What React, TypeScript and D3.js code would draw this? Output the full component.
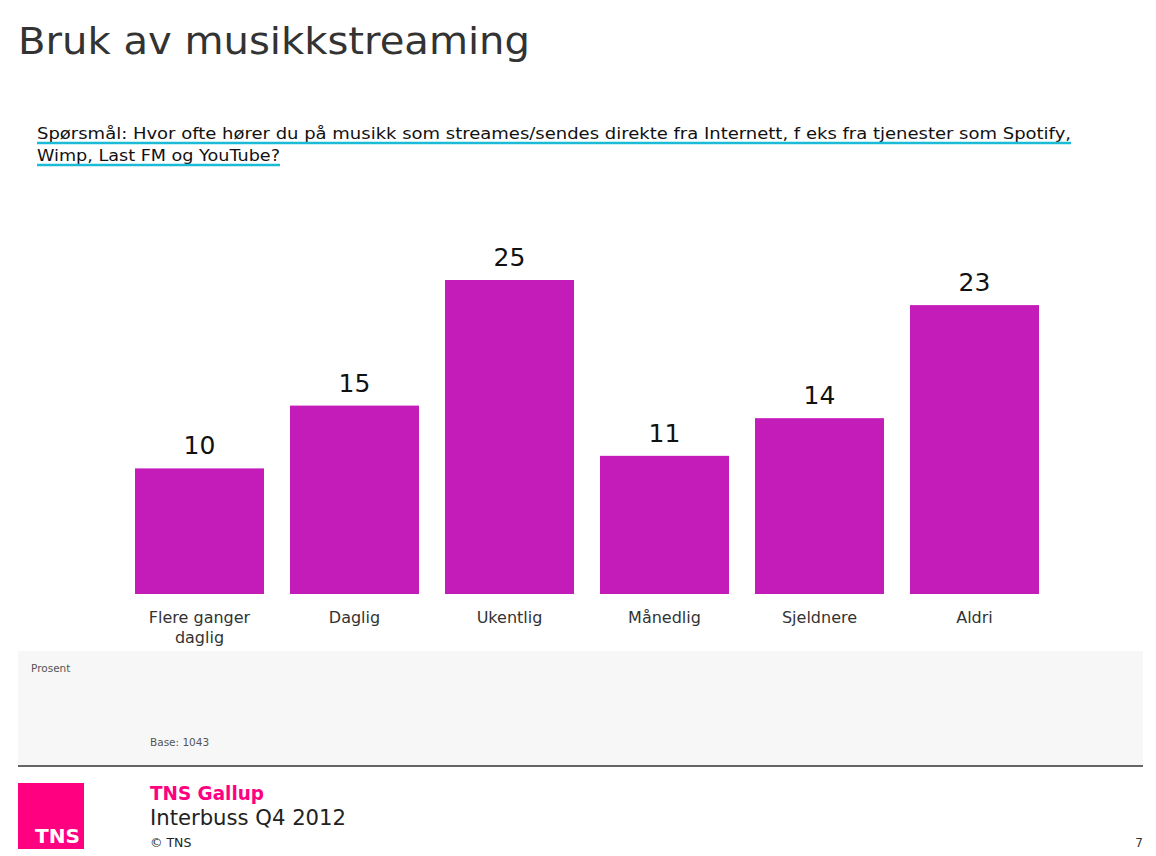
import React, { useEffect, useRef } from 'react';
import * as d3 from 'd3';

const categories = ['Flere ganger\ndaglig', 'Daglig', 'Ukentlig', 'Månedlig', 'Sjeldnere', 'Aldri'];
const values = [10, 15, 25, 11, 14, 23];
const questionLines = [
  'Spørsmål: Hvor ofte hører du på musikk som streames/sendes direkte fra Internett, f eks fra tjenester som Spotify,',
  'Wimp, Last FM og YouTube?',
];

const FONT = "'DejaVu Sans', Verdana, sans-serif";

export default function App() {
  const svgRef = useRef<SVGSVGElement>(null);

  useEffect(() => {
    if (!svgRef.current) return;
    const svg = d3.select(svgRef.current);
    svg.selectAll('*').remove();

    const width = 1156;
    const height = 856;

    svg.append('rect').attr('width', width).attr('height', height).attr('fill', '#fff');

    // title
    svg.append('text')
      .attr('x', 18).attr('y', 54)
      .attr('font-family', FONT).attr('font-size', 38)
      .attr('fill', '#333')
      .attr('textLength', 512).attr('lengthAdjust', 'spacingAndGlyphs')
      .text('Bruk av musikkstreaming');

    // question with cyan underline
    const qWidths = [1034, 243];
    questionLines.forEach((line, i) => {
      const y = 139 + i * 22;
      svg.append('text')
        .attr('x', 37).attr('y', y)
        .attr('font-family', FONT).attr('font-size', 16)
        .attr('fill', '#111')
        .attr('textLength', qWidths[i]).attr('lengthAdjust', 'spacingAndGlyphs')
        .text(line);
      svg.append('line')
        .attr('x1', 37).attr('x2', 37 + qWidths[i])
        .attr('y1', y + 4).attr('y2', y + 4)
        .attr('stroke', '#1bbad6').attr('stroke-width', 2.5);
    });

    // chart
    const x = d3.scaleBand<string>()
      .domain(categories)
      .range([122, 1052])
      .paddingInner(26 / 155)
      .paddingOuter(13 / 155);

    const y = d3.scaleLinear().domain([0, 25]).range([594, 280]);

    const g = svg.append('g');

    g.selectAll('rect.bar')
      .data(values)
      .enter()
      .append('rect')
      .attr('class', 'bar')
      .attr('x', (d, i) => x(categories[i])!)
      .attr('y', d => y(d))
      .attr('width', x.bandwidth())
      .attr('height', d => y(0) - y(d))
      .attr('fill', '#c41cb9');

    g.selectAll('text.val')
      .data(values)
      .enter()
      .append('text')
      .attr('class', 'val')
      .attr('x', (d, i) => x(categories[i])! + x.bandwidth() / 2)
      .attr('y', d => y(d) - 14)
      .attr('text-anchor', 'middle')
      .attr('font-family', FONT).attr('font-size', 25)
      .attr('fill', '#111')
      .text(d => d);

    categories.forEach((c, i) => {
      const t = g.append('text')
        .attr('x', x(c)! + x.bandwidth() / 2)
        .attr('y', 623)
        .attr('text-anchor', 'middle')
        .attr('font-family', FONT).attr('font-size', 16)
        .attr('fill', '#333');
      c.split('\n').forEach((part, j) => {
        t.append('tspan')
          .attr('x', x(c)! + x.bandwidth() / 2)
          .attr('dy', j === 0 ? 0 : 20)
          .text(part);
      });
    });

    // gray note box
    svg.append('rect')
      .attr('x', 18).attr('y', 651).attr('width', 1125).attr('height', 114)
      .attr('fill', '#f7f7f7');
    svg.append('text')
      .attr('x', 31).attr('y', 672)
      .attr('font-family', FONT).attr('font-size', 10.5)
      .attr('fill', '#555')
      .text('Prosent');
    svg.append('text')
      .attr('x', 150).attr('y', 746)
      .attr('font-family', FONT).attr('font-size', 10.5)
      .attr('fill', '#555')
      .text('Base: 1043');
    svg.append('line')
      .attr('x1', 18).attr('x2', 1143)
      .attr('y1', 766).attr('y2', 766)
      .attr('stroke', '#333').attr('stroke-width', 1.5);

    // footer
    svg.append('rect')
      .attr('x', 18).attr('y', 783).attr('width', 66).attr('height', 66)
      .attr('fill', '#ff0080');
    svg.append('text')
      .attr('x', 35).attr('y', 843)
      .attr('font-family', FONT).attr('font-size', 19).attr('font-weight', 'bold')
      .attr('fill', '#fff')
      .attr('textLength', 45).attr('lengthAdjust', 'spacingAndGlyphs')
      .text('TNS');
    svg.append('text')
      .attr('x', 150).attr('y', 800)
      .attr('font-family', FONT).attr('font-size', 20).attr('font-weight', 'bold')
      .attr('fill', '#ff0080')
      .attr('textLength', 114).attr('lengthAdjust', 'spacingAndGlyphs')
      .text('TNS Gallup');
    svg.append('text')
      .attr('x', 150).attr('y', 825)
      .attr('font-family', FONT).attr('font-size', 21)
      .attr('fill', '#222')
      .attr('textLength', 196).attr('lengthAdjust', 'spacingAndGlyphs')
      .text('Interbuss Q4 2012');
    svg.append('text')
      .attr('x', 150).attr('y', 847)
      .attr('font-family', FONT).attr('font-size', 12.5)
      .attr('fill', '#222')
      .text('© TNS');
    svg.append('text')
      .attr('x', 1143).attr('y', 847)
      .attr('text-anchor', 'end')
      .attr('font-family', FONT).attr('font-size', 12)
      .attr('fill', '#333')
      .text('7');
  }, []);

  return (
    <svg
      ref={svgRef}
      width={1156}
      height={856}
      style={{ position: 'absolute', left: 0, top: 0, display: 'block' }}
    />
  );
}
